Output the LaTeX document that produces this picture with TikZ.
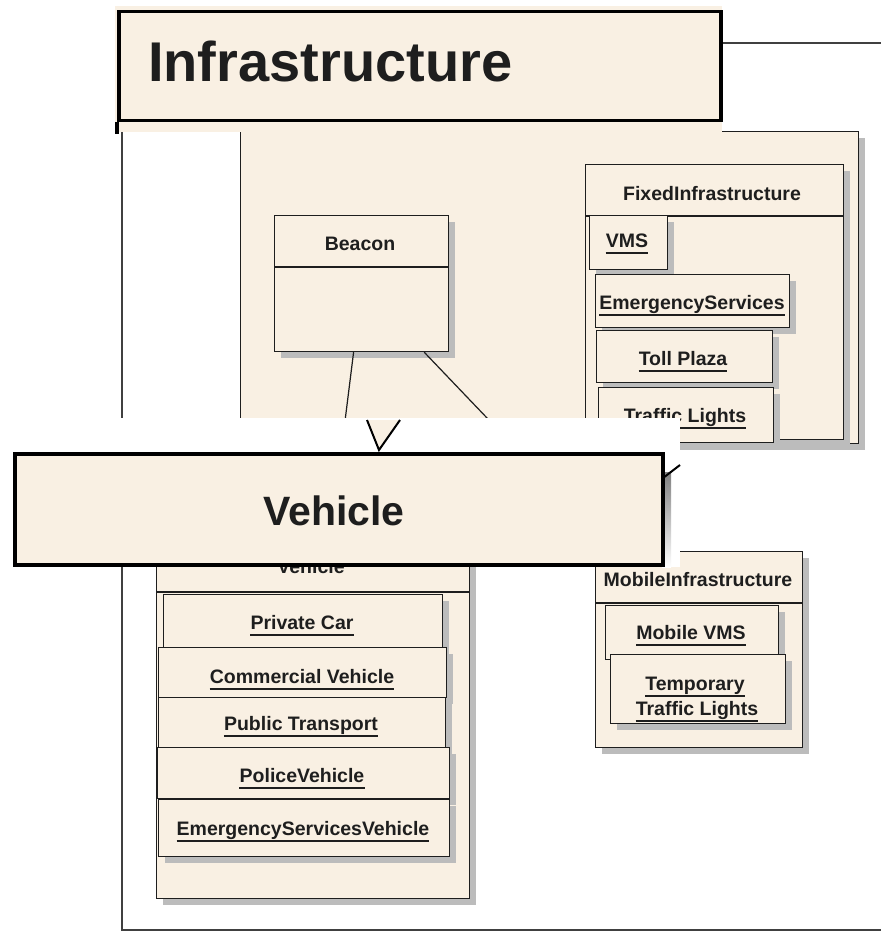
\documentclass[tikz,border=0pt]{standalone}
\usepackage{fontspec}
\setmainfont{Liberation Sans}
\usetikzlibrary{shadows}
\definecolor{cream}{RGB}{249,240,227}
\definecolor{shade}{RGB}{188,188,188}
\definecolor{ink}{RGB}{30,30,30}
\newcommand\cbox[5]{\node[box, minimum width={#4pt-#2pt}, minimum height={#5pt-#3pt}] (#1) at (#2,#3) {};}
\newcommand\ulab[4]{\node[lbl] (#1) at (#2,#3) {#4};\draw[uline] ([yshift=-6pt]#1.base west) -- ([yshift=-6pt]#1.base east);}
\begin{document}
\begin{tikzpicture}[x=1pt,y=-1pt,
  box/.style={draw=ink, line width=1.2pt, fill=cream, inner sep=0pt, anchor=north west,
    drop shadow={shadow xshift=6pt, shadow yshift=-6pt, fill=shade, opacity=1}},
  lbl/.style={inner sep=0pt, anchor=base, font=\fontsize{19.5}{22}\selectfont\bfseries, text=ink},
  uline/.style={draw=ink, line width=1.1pt},
  frameline/.style={draw=black!75, line width=1.2pt},
  divider/.style={draw=ink, line width=1.2pt},
  conn/.style={draw=ink, line width=1.2pt},
  bannerbox/.style={draw=black, line width=3.5pt, fill=cream, inner sep=0pt, anchor=north west},
  arrowline/.style={draw=black, line width=2pt},
  ]
\useasboundingbox (0,0) rectangle (881,931);
\fill[white] (0,0) rectangle (881,931);

% outer Infrastructure frame
\coordinate (ftl) at (722,43);
\coordinate (ftr) at (881,43);
\coordinate (flt) at (122,132);
\coordinate (flb) at (122,930);
\coordinate (fbr) at (881,930);
\draw[frameline] (ftl) -- (ftr);
\draw[frameline] (flt) -- (flb) -- (fbr);

% package area
\cbox{pkg}{240}{131}{858}{443}

% FixedInfrastructure
\cbox{fixed}{585}{164}{843}{439}
\draw[divider] (585,216) -- (843,216);
\node[lbl] (fixedL) at (712,200) {FixedInfrastructure};
\cbox{vms}{589}{215}{667}{269}
\ulab{vmsL}{627}{247}{VMS}
\cbox{ems}{595}{274}{789}{327}
\ulab{emsL}{692}{309}{EmergencyServices}
\cbox{toll}{596}{330}{772}{382}
\ulab{tollL}{683}{365}{Toll Plaza}
\cbox{tl}{598}{387}{773}{442}
\ulab{tlL}{685}{422}{Traffic Lights}

% Beacon
\cbox{beacon}{274}{215}{448}{351}
\draw[divider] (274,267) -- (448,267);
\node[lbl] (beaconL) at (360,250) {Beacon};

% Vehicle package
\cbox{veh}{156}{540}{469}{898}
\draw[divider] (156,592) -- (469,592);
\node[lbl] (vehL) at (311,573) {Vehicle};
\cbox{pc}{163}{594}{442}{647}
\ulab{pcL}{302}{629}{Private Car}
\cbox{cv}{158}{647}{446}{697}
\ulab{cvL}{302}{683}{Commercial Vehicle}
\cbox{pt}{158}{697}{445}{747}
\ulab{ptL}{301}{730}{Public Transport}
\cbox{pv}{157}{747}{449}{798}
\ulab{pvL}{302}{782}{PoliceVehicle}
\cbox{esv}{158}{799}{449}{856}
\ulab{esvL}{303}{835}{EmergencyServicesVehicle}

% MobileInfrastructure
\cbox{mobile}{595}{551}{802}{747}
\draw[divider] (595,603) -- (802,603);
\node[lbl] (mobileL) at (698,586) {MobileInfrastructure};
\cbox{mvms}{605}{605}{778}{659}
\ulab{mvmsL}{691}{639}{Mobile VMS}
\cbox{ttl}{610}{654}{785}{723}
\ulab{ttlA}{695}{690}{Temporary}
\ulab{ttlB}{697}{715}{Traffic Lights}

% connectors from Beacon
\draw[conn] ([xshift=-8pt]beacon.south) -- ([xshift=17pt]veh.north);
\draw[conn] ([xshift=-25pt]beacon.south east) -- ([xshift=19pt]mobile.north west);

% pasted Vehicle banner (white band)
\fill[white] (0,418) rectangle (680,567);
\fill[shade] (662,472) rectangle (671,567);
\coordinate (vA) at (367,420);
\coordinate (vT) at (379,450);
\coordinate (vB) at (400,420);
\fill[cream] (vA) -- (vT) -- (vB) -- cycle;
\draw[arrowline] (vA) -- (vT) -- (vB);
\coordinate (wA) at (680,465);
\coordinate (wT) at (663,478);
\draw[arrowline] (wA) -- (wT);
\node[bannerbox, minimum width=648pt, minimum height=111pt] (vban) at (13,452) {};
\node[inner sep=0pt, anchor=base, font=\fontsize{41}{44}\selectfont\bfseries, text=ink] (vbanT) at (334,525) {Vehicle};

% Infrastructure banner
\fill[cream] (115,6) rectangle (722,132);
\node[bannerbox, minimum width=602pt, minimum height=109pt] (iban) at (117,10) {};
\draw[draw=black, line width=3.5pt] (iban.south west) -- ++(0,12);
\node[inner sep=0pt, anchor=base west, font=\fontsize{56}{60}\selectfont\bfseries, text=ink] (ibanT) at (148,82) {Infrastructure};
\end{tikzpicture}
\end{document}
